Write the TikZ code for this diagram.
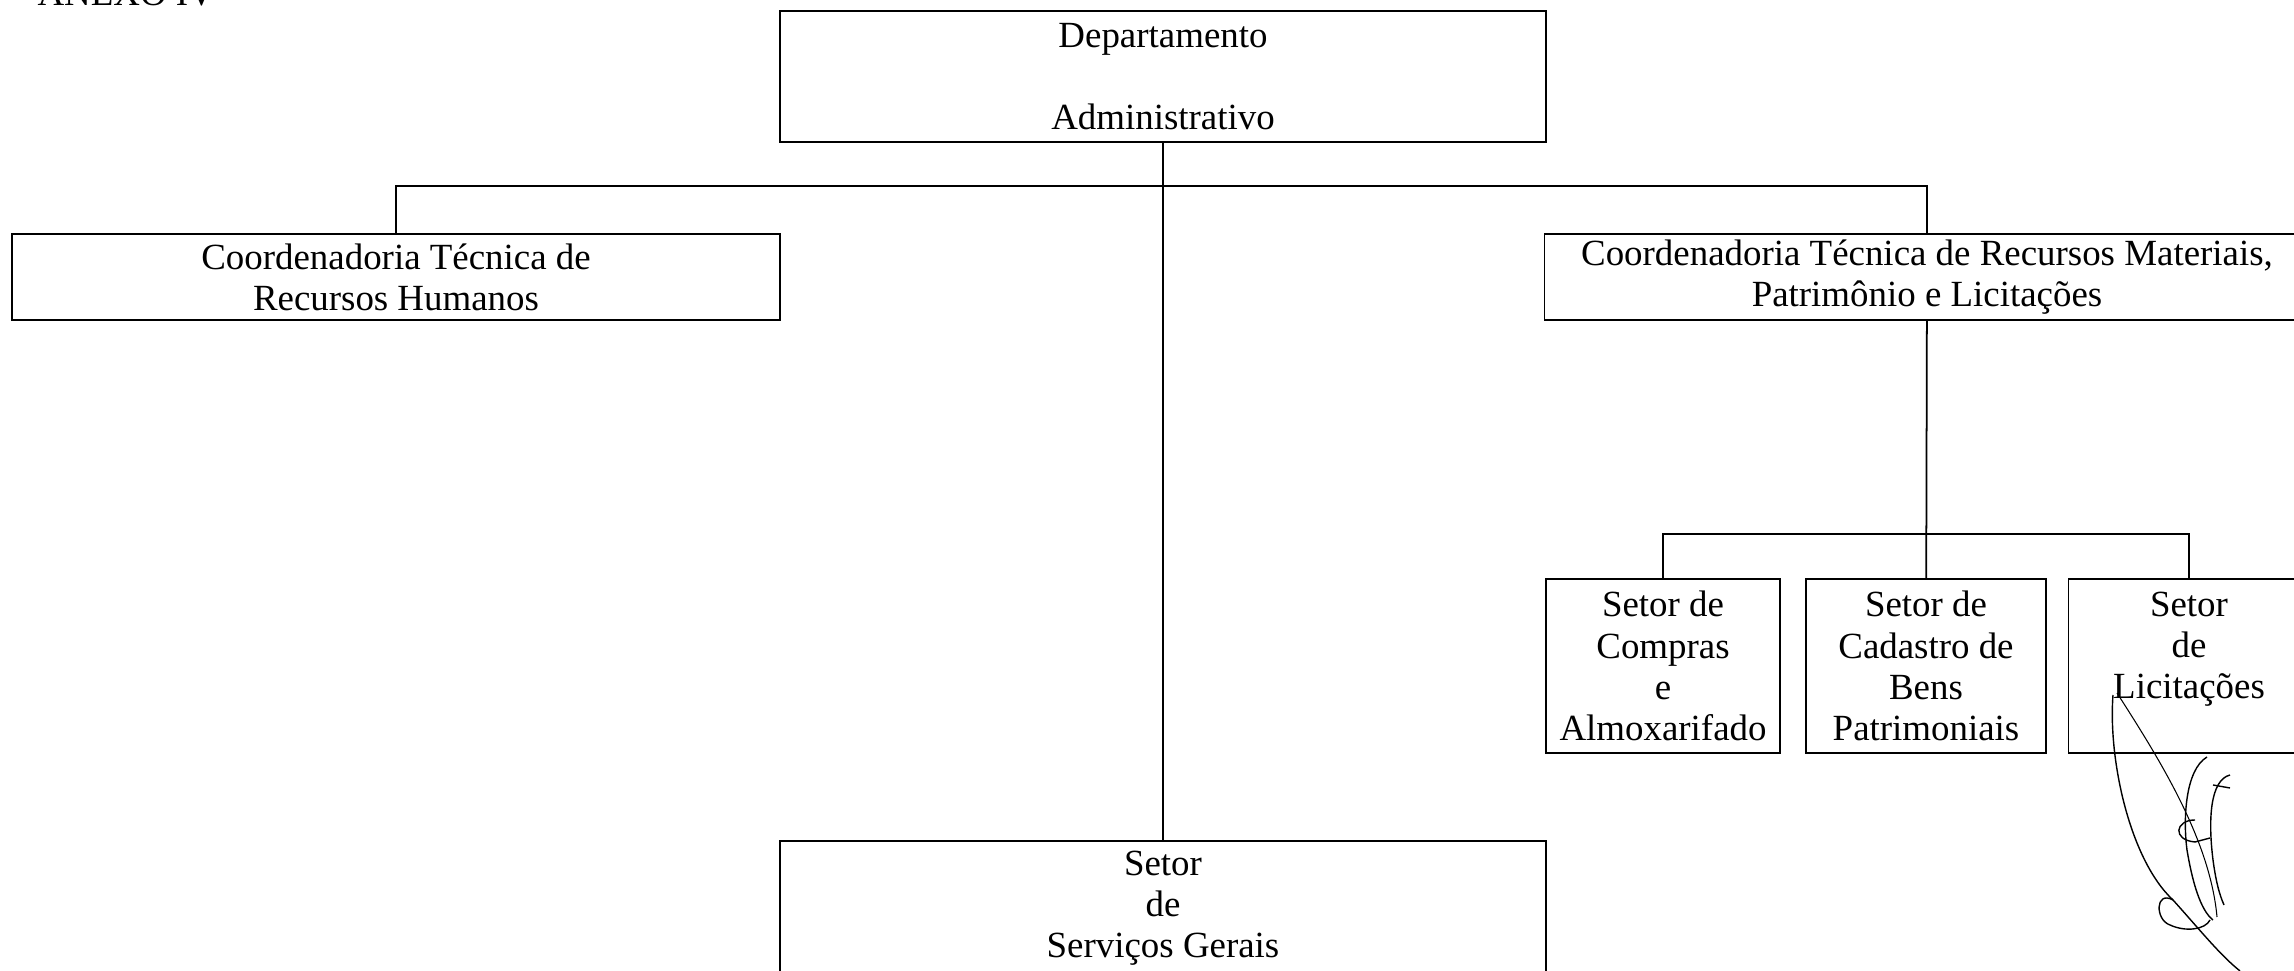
\documentclass[tikz,border=0pt]{standalone}
\usepackage{fontspec}
\setmainfont{Liberation Serif}
\usepackage{tikz}

\begin{document}
\begin{tikzpicture}[node distance=2.63cm, line width=0.5pt,
	setor/.style={draw, inner sep=0pt, align=center, font=\fontsize{10.5}{11.7}\selectfont}]
		\useasboundingbox (0,0) rectangle (22.94,-9.71);
		\node[anchor=base west, font=\fontsize{10.5}{11.7}\selectfont] (AN) at (0.25,-0.06) {ANEXO IV};
		\node[setor, minimum width=7.66cm, minimum height=1.31cm] (D) at (11.63,-0.765) {Departamento\\\mbox{}\\Administrativo};
		\node[setor, minimum width=7.68cm, minimum height=0.86cm] (RH) at (3.96,-2.77) {Coordenadoria Técnica de\\Recursos Humanos};
		\node[setor, minimum width=7.65cm, minimum height=0.86cm] (RM) at (19.27,-2.77) {Coordenadoria Técnica de Recursos Materiais,\\Patrimônio e Licitações};
		\node[setor, minimum width=7.66cm, minimum height=1.34cm] (SG) at (11.63,-9.08) {Setor\\de\\Serviços Gerais};
		\node[setor, minimum width=2.34cm, minimum height=1.74cm] (C1) at (16.63,-6.66) {Setor de\\Compras\\e\\Almoxarifado};
		\node[setor, minimum width=2.40cm, minimum height=1.74cm] (C2) [right of=C1] {Setor de\\Cadastro de\\Bens\\Patrimoniais};
		\node[setor, minimum width=2.41cm, minimum height=1.74cm] (C3) [right of=C2] {Setor\\de\\Licitações\\\mbox{}};
		\coordinate (B1) at (11.63,-1.86);
		\coordinate (B2) at (19.27,-5.34);
		\draw (D) -- (SG);
		\draw (RH.north) |- (B1) -| (RM.north);
		\draw (RM) -- (C2);
		\draw (C1.north) |- (B2) -| (C3.north);
		\draw[line width=0.4pt] (21.13,-6.95) .. controls (21.08,-7.6) and (21.3,-8.6) .. (21.73,-9.0) .. controls (22.0,-9.3) and (22.2,-9.55) .. (22.4,-9.71);
		\draw[line width=0.3pt] (21.17,-6.93) .. controls (21.6,-7.6) and (22.1,-8.4) .. (22.17,-9.17);
		\draw[line width=0.4pt] (21.73,-9.0) .. controls (21.55,-8.9) and (21.55,-9.2) .. (21.7,-9.25) .. controls (21.85,-9.32) and (22.05,-9.3) .. (22.1,-9.2);
		\draw[line width=0.4pt] (22.07,-7.57) .. controls (21.85,-7.7) and (21.83,-8.2) .. (21.87,-8.5) .. controls (21.92,-8.8) and (22.0,-9.1) .. (22.13,-9.2);
		\draw[line width=0.4pt] (22.30,-7.75) .. controls (22.1,-7.8) and (22.08,-8.2) .. (22.13,-8.6) .. controls (22.17,-8.9) and (22.22,-9.0) .. (22.24,-9.05);
		\draw[line width=0.4pt] (22.13,-7.85) -- (22.3,-7.88);
		\draw[line width=0.4pt] (21.95,-8.2) .. controls (21.75,-8.2) and (21.72,-8.4) .. (21.95,-8.42) -- (22.1,-8.38);
		\end{tikzpicture}
\end{document}
